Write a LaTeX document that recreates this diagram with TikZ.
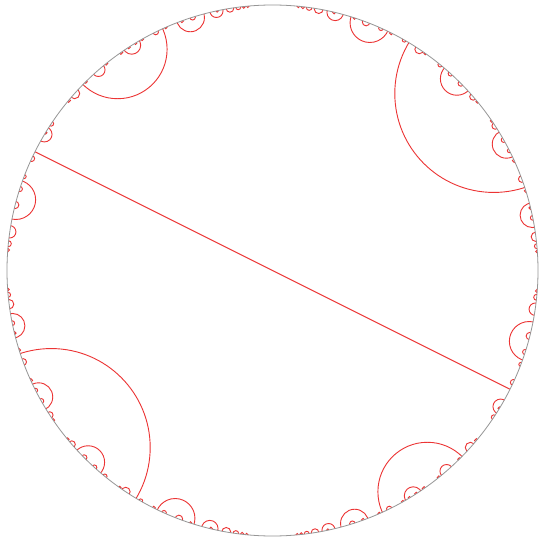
\documentclass[tikz,border=0pt]{standalone}
\definecolor{geored}{RGB}{236,52,52}
\definecolor{rimgray}{RGB}{150,150,150}
\newcount\gS \newcount\gB \newcount\gD \newcount\gT \newcount\gV \newcount\gA \newcount\gM
\def\Rd{265.5}
\def\Nmax{480}
% geodesic of the binary form (a,b,c), b^2-4ac=5, with s=a+c, d=a-c:
% disk circle centre (-b,-d)/s, radius sqrt5/s  (orbit of the golden geodesic under Gamma(3))
\def\checkvar#1#2{%
  \gA=\numexpr(\gS+(#2))/2\relax
  \gM=\numexpr\gA-(\gA/3)*3\relax
  \ifnum\gM=0 \else
    \gM=\numexpr(\gA-(#1))-((\gA-(#1))/3)*3\relax
    \ifnum\gM=0
      \edef\gcx{\the\numexpr0-(#1)\relax}%
      \edef\gcy{\the\numexpr0-(#2)\relax}%
      \edef\gsv{\the\gS}%
      \draw[geo] ({\gcx/\gsv*\Rd},{\gcy/\gsv*\Rd}) circle ({2.2360680/\gsv*\Rd});%
    \fi
  \fi}
\def\processsol{%
  \edef\gbv{\the\gB}\edef\gdv{\the\gD}%
  \checkvar{\gbv}{\gdv}%
  \checkvar{-\gbv}{\gdv}%
  \ifnum\gD>0 \checkvar{\gbv}{-\gdv}\checkvar{-\gbv}{-\gdv}\fi}
\def\innerstep{%
  \ifnum\gD<0 \let\gnext\relax
  \else
    \ifnum\numexpr\gB*\gB\relax>\gT \let\gnext\relax
    \else
      \gV=\numexpr\gB*\gB+\gD*\gD-\gT\relax
      \ifnum\gV>0 \advance\gD by -2
      \else\ifnum\gV<0 \advance\gB by 2
      \else \processsol \advance\gB by 2 \advance\gD by -2
      \fi\fi
      \let\gnext\innerstep
    \fi
  \fi
  \gnext}
\def\outerstep{%
  \ifnum\gS>\Nmax \let\gnexto\relax
  \else
    \gT=\numexpr\gS*\gS+5\relax \gB=1 \gD=\gS
    \innerstep
    \advance\gS by 2
    \let\gnexto\outerstep
  \fi
  \gnexto}
\begin{document}
\begin{tikzpicture}[x=1pt,y=1pt,
  geo/.style={draw=geored,line width=0.9pt},
  rim/.style={draw=rimgray,line width=0.8pt}]
\useasboundingbox (-272.5,-270.5) rectangle (267.5,270.5);
\fill[white] (-272.5,-270.5) rectangle (267.5,270.5);
\begin{scope}
  \clip (0,0) circle (\Rd);
  \coordinate (dl) at (153.43495:\Rd);
  \coordinate (dr) at (-26.56505:\Rd);
  \draw[geo] (dl) -- (dr);
  \gS=2
  \outerstep
\end{scope}
\draw[rim] (0,0) circle (\Rd);
\end{tikzpicture}
\end{document}
